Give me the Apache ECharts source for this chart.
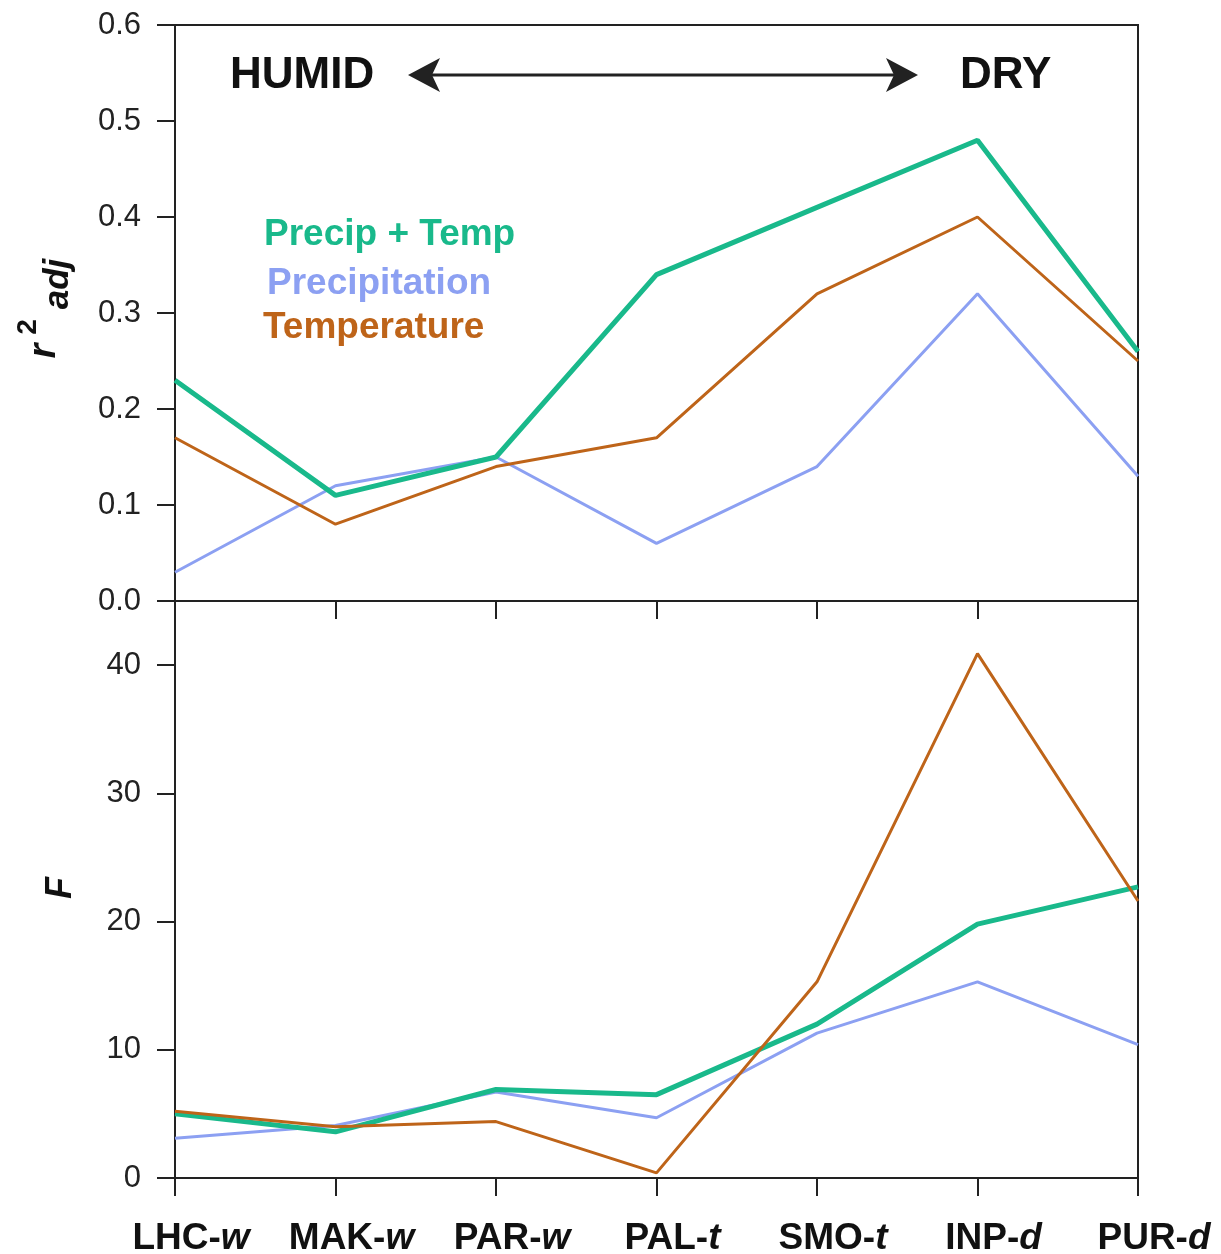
<!DOCTYPE html>
<html>
<head>
<meta charset="utf-8">
<script src="https://cdn.jsdelivr.net/npm/echarts@6/dist/echarts.min.js"></script>
<style>
  html, body { margin: 0; padding: 0; background: #fff; }
  #chart { width: 1221px; height: 1254px; }
</style>
</head>
<body>
<div id="chart"></div>
<script>
// sites, humid -> dry
var categories = ["LHC-w", "MAK-w", "PAR-w", "PAL-t", "SMO-t", "INP-d", "PUR-d"];

// r2 adj (top panel)
var r2Both = [0.23, 0.11, 0.15, 0.34, 0.41, 0.48, 0.26];
var r2Precip = [0.03, 0.12, 0.15, 0.06, 0.14, 0.32, 0.13];
var r2Temp = [0.17, 0.08, 0.14, 0.17, 0.32, 0.40, 0.25];

// F statistic (bottom panel)
var fBoth = [5.0, 3.6, 6.9, 6.5, 12.0, 19.8, 22.7];
var fPrecip = [3.1, 4.1, 6.7, 4.7, 11.3, 15.3, 10.4];
var fTemp = [5.2, 4.0, 4.4, 0.4, 15.3, 40.9, 21.6];

var r2Ticks = [0, 0.1, 0.2, 0.3, 0.4, 0.5, 0.6];
var fTicks = [0, 10, 20, 30, 40];

var GREEN = "#19b98b", BLUE = "#8ca0f2", ORANGE = "#be6419", INK = "#222";
var FONT = "Liberation Sans";

var chart = echarts.init(document.getElementById("chart"));

function catLabel(v) {
  var p = v.split("-");
  return "{b|" + p[0] + "-}{i|" + p[1] + "}";
}

var axisLineStyle = { show: true, lineStyle: { color: INK, width: 2 } };
var tickStyle = { show: true, inside: false, length: 18, lineStyle: { color: INK, width: 2 } };

var option = {
  animation: false,
  backgroundColor: "#fff",
  grid: [
    { left: 175, top: 25, width: 963, height: 576, show: true, borderColor: INK, borderWidth: 2, outerBoundsMode: "none", containLabel: false },
    { left: 175, top: 601, width: 963, height: 577, show: true, borderColor: INK, borderWidth: 2, outerBoundsMode: "none", containLabel: false }
  ],
  xAxis: [
    {
      gridIndex: 0, type: "category", data: categories, boundaryGap: false,
      axisLine: axisLineStyle, axisTick: tickStyle, axisLabel: { show: false },
      splitLine: { show: false }
    },
    {
      gridIndex: 1, type: "category", data: categories, boundaryGap: false,
      axisLine: axisLineStyle, axisTick: tickStyle,
      axisLabel: {
        margin: 42,
        padding: [0, 0, 0, 32],
        formatter: catLabel,
        rich: {
          b: { fontFamily: FONT, fontSize: 37, fontWeight: "bold", color: "#111" },
          i: { fontFamily: FONT, fontSize: 37, fontWeight: "bold", fontStyle: "italic", color: "#111" }
        }
      },
      splitLine: { show: false }
    }
  ],
  yAxis: [
    {
      gridIndex: 0, type: "value", min: r2Ticks[0], max: r2Ticks[r2Ticks.length - 1], interval: 0.1,
      axisLine: axisLineStyle, axisTick: tickStyle, splitLine: { show: false },
      axisLabel: {
        margin: 34, fontFamily: FONT, fontSize: 31, color: INK,
        formatter: function (v) { return v.toFixed(1); }
      }
    },
    {
      gridIndex: 1, type: "value", min: fTicks[0], max: 45, interval: 10,
      axisLine: axisLineStyle, axisTick: tickStyle, splitLine: { show: false },
      axisLabel: {
        margin: 34, fontFamily: FONT, fontSize: 31, color: INK, showMaxLabel: false,
        formatter: function (v) { return fTicks.indexOf(v) >= 0 ? String(v) : ""; }
      }
    }
  ],
  series: [
    { name: "Precipitation", type: "line", xAxisIndex: 0, yAxisIndex: 0, data: r2Precip, symbol: "none", lineStyle: { color: BLUE, width: 3 } },
    { name: "Precip + Temp", type: "line", xAxisIndex: 0, yAxisIndex: 0, data: r2Both, symbol: "none", lineStyle: { color: GREEN, width: 5 } },
    { name: "Temperature", type: "line", xAxisIndex: 0, yAxisIndex: 0, data: r2Temp, symbol: "none", lineStyle: { color: ORANGE, width: 3 } },
    { name: "Precipitation", type: "line", xAxisIndex: 1, yAxisIndex: 1, data: fPrecip, symbol: "none", lineStyle: { color: BLUE, width: 3 } },
    { name: "Precip + Temp", type: "line", xAxisIndex: 1, yAxisIndex: 1, data: fBoth, symbol: "none", lineStyle: { color: GREEN, width: 5 } },
    { name: "Temperature", type: "line", xAxisIndex: 1, yAxisIndex: 1, data: fTemp, symbol: "none", lineStyle: { color: ORANGE, width: 3 } }
  ],
  graphic: [
    // y axis titles
    { type: "text", x: 45, y: 351, rotation: Math.PI / 2,
      style: { text: "r", font: "italic bold 38px " + FONT, fill: "#111", align: "center", verticalAlign: "middle" } },
    { type: "text", x: 28, y: 327, rotation: Math.PI / 2,
      style: { text: "2", font: "bold 28px " + FONT, fill: "#111", align: "center", verticalAlign: "middle" } },
    { type: "text", x: 58, y: 284, rotation: Math.PI / 2,
      style: { text: "adj", font: "italic bold 35px " + FONT, fill: "#111", align: "center", verticalAlign: "middle" } },
    { type: "text", x: 61, y: 888, rotation: Math.PI / 2,
      style: { text: "F", font: "italic bold 36px " + FONT, fill: "#111", align: "center", verticalAlign: "middle" } },
    // humid / dry
    { type: "text", x: 230, y: 76,
      style: { text: "HUMID", font: "bold 44px " + FONT, fill: "#111", align: "left", verticalAlign: "middle" } },
    { type: "text", x: 960, y: 76,
      style: { text: "DRY", font: "bold 44px " + FONT, fill: "#111", align: "left", verticalAlign: "middle" } },
    { type: "line", shape: { x1: 430, y1: 75, x2: 897, y2: 75 }, style: { stroke: INK, lineWidth: 3 } },
    { type: "polygon", shape: { points: [[408, 75], [440, 58], [432, 75], [440, 92]] }, style: { fill: INK } },
    { type: "polygon", shape: { points: [[918, 75], [886, 58], [894, 75], [886, 92]] }, style: { fill: INK } },
    // legend text
    { type: "text", x: 264, y: 235,
      style: { text: "Precip + Temp", font: "bold 37px " + FONT, fill: GREEN, align: "left", verticalAlign: "middle" } },
    { type: "text", x: 267, y: 284,
      style: { text: "Precipitation", font: "bold 37px " + FONT, fill: BLUE, align: "left", verticalAlign: "middle" } },
    { type: "text", x: 263, y: 328,
      style: { text: "Temperature", font: "bold 37px " + FONT, fill: ORANGE, align: "left", verticalAlign: "middle" } }
  ]
};

chart.setOption(option);
window.addEventListener("resize", chart.resize);
</script>
</body>
</html>
